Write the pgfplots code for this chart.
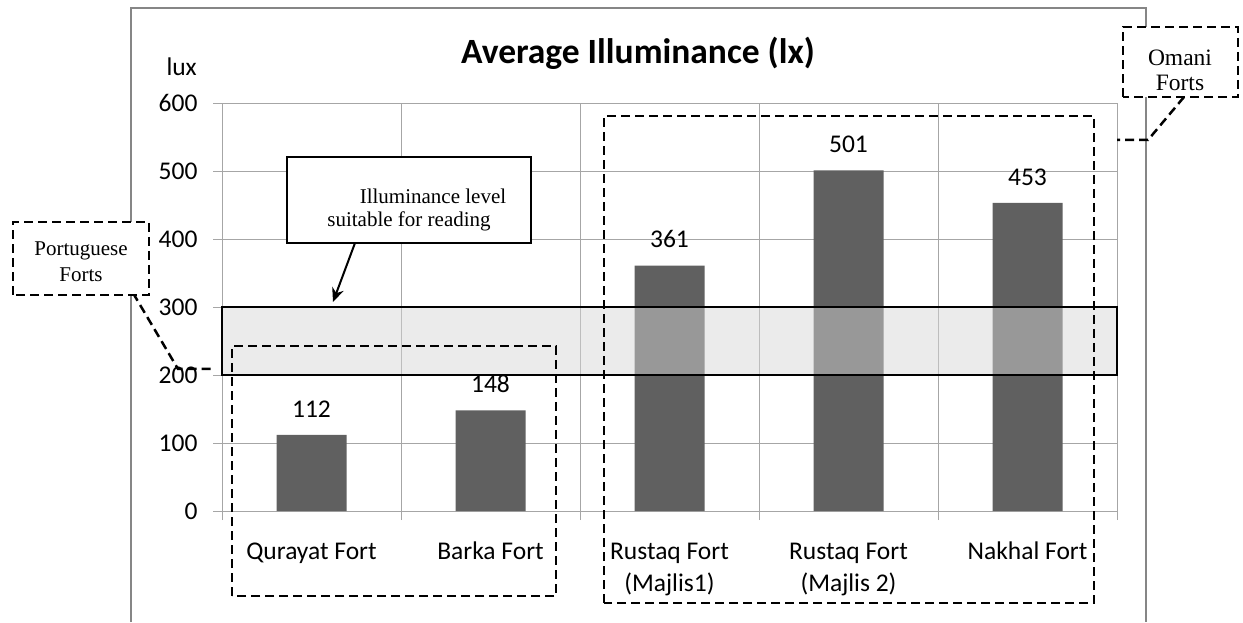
\documentclass[border=0pt]{standalone}
\usepackage{fontspec}
\setmainfont{Carlito}
\newfontfamily\tnr{Liberation Serif}
\usepackage{pgfplots}
\pgfplotsset{compat=1.18}
\usetikzlibrary{arrows.meta}
\definecolor{barc}{HTML}{606060}
\definecolor{gridc}{HTML}{A6A6A6}
\definecolor{framec}{HTML}{868686}
\definecolor{bandc}{HTML}{D6D6D6}
\begin{document}
\begin{tikzpicture}[x=1pt,y=1pt]
\useasboundingbox (0,0) rectangle (1243,622);
\draw[framec, line width=2pt] (131,0) -- (131,614) -- (1146,614) -- (1146,0);
\begin{axis}[
  at={(222pt,111pt)}, anchor=south west, scale only axis,
  width=895pt, height=408pt,
  xmin=-0.5, xmax=4.5, ymin=0, ymax=600,
  ytick={0,100,...,600},
  xtick={-0.5,0.5,1.5,2.5,3.5,4.5},
  xticklabels={},
  extra x ticks={0,1,2,3,4},
  extra x tick labels={\strut Qurayat Fort, \strut Barka Fort, {\strut Rustaq Fort\\\strut(Majlis1)}, {\strut Rustaq Fort\\\strut(Majlis 2)}, \strut Nakhal Fort},
  extra x tick style={major tick length=0pt, grid=none},
  xmajorgrids, ymajorgrids,
  grid style={gridc, line width=1pt},
  axis line style={gridc, line width=1pt},
  tick style={gridc, line width=1pt},
  tick align=outside, major tick length=9pt,
  xtick pos=bottom, ytick pos=left,
  ticklabel style={font=\fontsize{25.5}{30}\selectfont, text=black},
  yticklabel style={xshift=-12pt},
  xticklabel style={align=center, yshift=-23pt, font=\fontsize{25.5}{32}\selectfont},
  /pgf/number format/assume math mode=true,
  ybar, bar width=70pt,
  nodes near coords,
  nodes near coords style={font=\fontsize{25.5}{30}\selectfont, text=black, yshift=14pt},
  clip=false,
]
\addplot[fill=barc, draw=none] coordinates {(0,112) (1,148) (2,361) (3,501) (4,453)};
\fill[bandc, opacity=0.484] (axis cs:-0.5,200) rectangle (axis cs:4.5,300);
\draw[black, line width=1.5pt] (axis cs:-0.5,200) rectangle (axis cs:4.5,300);
\end{axis}
% title and unit
\node[font=\fontsize{35.5}{42}\selectfont\bfseries] at (638,569) {Average Illuminance (lx)};
\node[font=\fontsize{25.5}{30}\selectfont, anchor=east, inner sep=0pt] at (197,555) {lux};
% reading-level callout
\draw[black, line width=2pt, fill=white] (287,379) rectangle (531,465);
\node[font=\tnr\fontsize{21}{25}\selectfont] at (433,426) {Illuminance level};
\node[font=\tnr\fontsize{21}{25}\selectfont] at (409,401) {suitable for reading};
\draw[black, line width=2pt, -{Stealth[length=14pt,width=12pt]}] (355,379) -- (333,320);
% dashed group boxes
\tikzset{dsh/.style={black, line width=2.5pt, dash pattern=on 9pt off 5pt}}
\draw[dsh] (232,26) rectangle (556,276);
\draw[dsh] (604,19) rectangle (1094,506);
% Portuguese label
\draw[dsh] (133,329) -- (178,253) -- (214,253);
\draw[dsh, fill=white] (13,327) rectangle (149,400);
\node[font=\tnr\fontsize{21}{25}\selectfont] at (81,371) {Portuguese};
\node[font=\tnr\fontsize{21}{25}\selectfont] at (81,347) {Forts};
% Omani label
\draw[dsh] (1184,525) -- (1148,482) -- (1117,482);
\draw[dsh, fill=white] (1123,525) rectangle (1238,595);
\node[font=\tnr\fontsize{23.5}{28}\selectfont] at (1180,564) {Omani};
\node[font=\tnr\fontsize{23.5}{28}\selectfont] at (1180,539) {Forts};
\end{tikzpicture}
\end{document}
